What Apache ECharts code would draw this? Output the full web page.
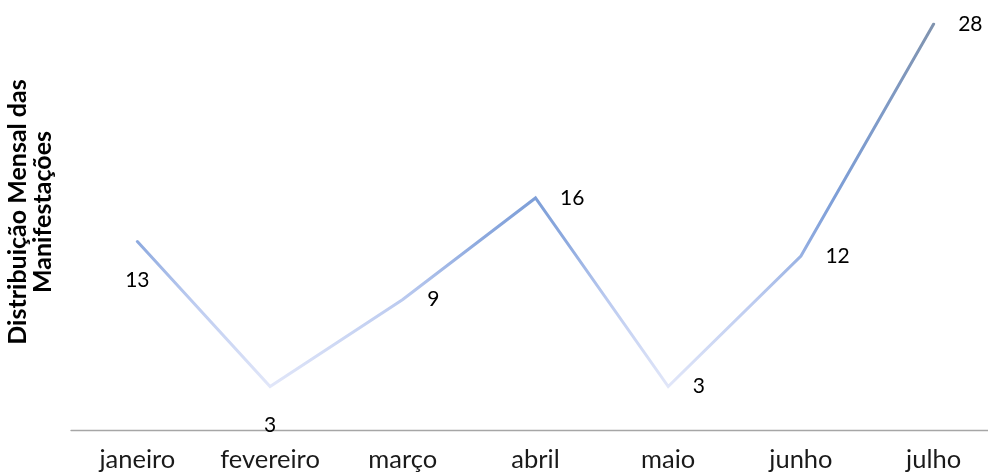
<!DOCTYPE html>
<html>
<head>
<meta charset="utf-8">
<script src="https://cdn.jsdelivr.net/npm/echarts@6/dist/echarts.min.js"></script>
<style>
  html, body { margin: 0; padding: 0; background: #ffffff; }
  #chart { width: 988px; height: 475px; }
</style>
</head>
<body>
<div id="chart"></div>
<script>
// Monthly count of manifestations, January to July
const months = ['janeiro', 'fevereiro', 'março', 'abril', 'maio', 'junho', 'julho'];
const counts = [13, 3, 9, 16, 3, 12, 28];
const labelSides = ['bottom', 'bottom', 'right', 'right', 'right', 'right', 'right'];
const axisTitle = 'Distribuição Mensal das\nManifestações';

const FONT = 'Lato, "Open Sans", sans-serif';

const chart = echarts.init(document.getElementById('chart'));

// Vertical gradient along the line: pale lavender for low values, blue mid, slate at the top
const lineGradient = new echarts.graphic.LinearGradient(0, 1, 0, 0, [
  { offset: 0.00, color: '#e2e7f9' },
  { offset: 0.24, color: '#bccbf0' },
  { offset: 0.40, color: '#8eaadf' },
  { offset: 0.52, color: '#7e9fd8' },
  { offset: 0.74, color: '#7f9bc8' },
  { offset: 1.00, color: '#8093ae' }
]);

chart.setOption({
  animation: false,
  backgroundColor: '#ffffff',
  // plot area runs past the right edge of the canvas
  grid: {
    left: 71, right: -12, top: 24, bottom: 45,
    containLabel: false,
    outerBoundsMode: 'none'
  },
  xAxis: {
    type: 'category',
    data: months,
    boundaryGap: true,
    axisLine: { show: true, lineStyle: { color: '#a6a6a6', width: 1.3 } },
    axisTick: { show: false },
    axisLabel: {
      color: '#1a1a1a',
      fontFamily: FONT,
      fontSize: 25.5,
      margin: 17
    }
  },
  yAxis: {
    type: 'value',
    min: 0,
    max: 28,
    axisLine: { show: false },
    axisTick: { show: false },
    axisLabel: { show: false },
    splitLine: { show: false }
  },
  graphic: [{
    type: 'text',
    x: 30,
    y: 212,
    rotation: Math.PI / 2,
    style: {
      text: axisTitle,
      fill: '#000000',
      font: 'bold 25px ' + FONT,
      textAlign: 'center',
      textVerticalAlign: 'middle',
      lineHeight: 25
    }
  }],
  series: [{
    type: 'line',
    data: counts.map((v, i) => ({
      value: v,
      label: {
        position: labelSides[i],
        distance: labelSides[i] === 'bottom' ? 28 : 24
      }
    })),
    symbol: 'circle',
    symbolSize: 1,
    showSymbol: true,
    itemStyle: { color: 'rgba(0,0,0,0)' },
    lineStyle: { width: 3, color: lineGradient, cap: 'round', join: 'miter' },
    label: {
      show: true,
      color: '#000000',
      fontFamily: FONT,
      fontSize: 21
    },
    emphasis: { disabled: true }
  }]
});
</script>
</body>
</html>
